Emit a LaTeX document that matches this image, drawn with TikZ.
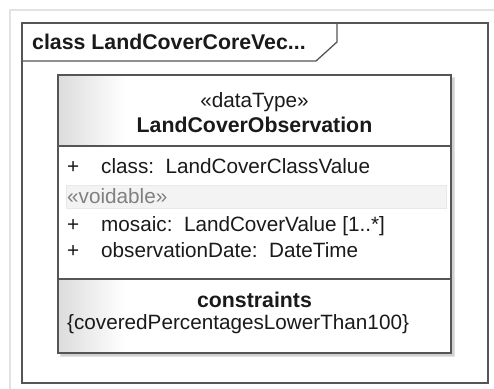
\documentclass[tikz,border=0pt]{standalone}
\usepackage{fontspec}
\setmainfont{Liberation Sans}
\definecolor{ink}{HTML}{1A1A1A}
\definecolor{framecol}{HTML}{555555}
\definecolor{outercol}{HTML}{E2E2E2}
\definecolor{shadowcol}{HTML}{D0D0D0}
\definecolor{bandfill}{HTML}{F3F3F3}
\definecolor{bandline}{HTML}{E8E8E8}
\definecolor{stereogray}{HTML}{808080}
\definecolor{gradgray}{HTML}{DCDCDC}
\tikzset{
  txt/.style={inner sep=0pt, text=ink, font=\fontsize{20.7}{24}\selectfont},
  boldtxt/.style={txt, font=\fontsize{21.3}{24}\selectfont\bfseries},
  attr/.style={txt, anchor=base west},
  vis/.style={txt, anchor=base west},
  framelines/.style={draw=framecol, line width=1.3pt},
}
\begin{document}
\begin{tikzpicture}[x=1pt,y=-1pt]
  \useasboundingbox (0,0) rectangle (494,388);
  \fill[white] (0,0) rectangle (494,388);
  % outer light border of the canvas
  \draw[outercol, line width=1.5pt] (10,400) -- (10,10) -- (500,10);

  % diagram frame with its name tab
  \draw[framelines] (22,23) rectangle (488,383);
  \draw[framelines] (22,61) -- (316,61) -- (337,42) -- (337,23);
  \node[boldtxt, anchor=base west] (title) at (32,49) {class LandCoverCoreVec...};

  % class box: soft shadow, then white body with a light left-edge gradient
  \fill[shadowcol!60] (60,77) rectangle (455,357);
  \fill[shadowcol] (61,78) rectangle (454,356);
  \fill[white] (58,75) rectangle (451,353);
  \shade[left color=gradgray, right color=white] (58,75) rectangle (125,146);
  \shade[left color=gradgray, right color=white] (58,279) rectangle (125,353);

  % voidable band
  \filldraw[fill=bandfill, draw=bandline, line width=0.6pt] (66,185) rectangle (446,208);

  % outline and compartment dividers
  \draw[framelines] (58,75) rectangle (451,353);
  \draw[framelines] (58,146) -- (451,146);
  \draw[framelines] (58,279) -- (451,279);

  % header
  \node[txt, anchor=base] (stereo) at (254.5,107) {«dataType»};
  \node[boldtxt, anchor=base] (cname) at (254.5,132) {LandCoverObservation};

  % attributes
  \node[vis] (v1) at (67,173) {+};
  \node[attr] (a1) at (101,173) {class:\ \ LandCoverClassValue};
  \node[txt, anchor=base west, text=stereogray] (voidable) at (67,203) {«voidable»};
  \node[vis] (v2) at (67,231) {+};
  \node[attr] (a2) at (101,231) {mosaic:\ \ LandCoverValue [1..*]};
  \node[vis] (v3) at (67,257) {+};
  \node[attr] (a3) at (101,257) {observationDate:\ \ DateTime};

  % constraints
  \node[boldtxt, anchor=base] (ctitle) at (254.5,307) {constraints};
  \node[attr] (c1) at (67,329) {\{coveredPercentagesLowerThan100\}};
\end{tikzpicture}
\end{document}
